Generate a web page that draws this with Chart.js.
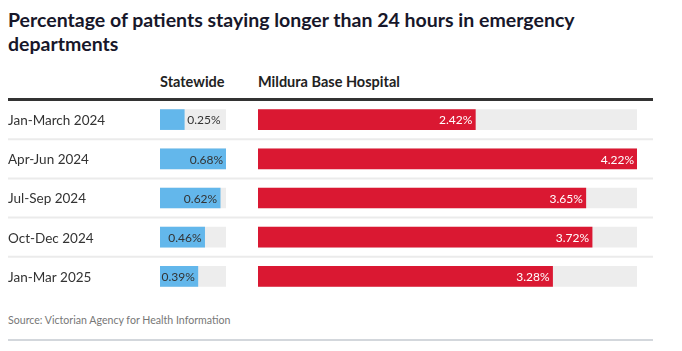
<!DOCTYPE html>
<html>
<head>
<meta charset="utf-8">
<script src="https://cdn.jsdelivr.net/npm/chart.js"></script>
<style>
  body { margin: 0; width: 682px; height: 351px; background: #fff; position: relative; overflow: hidden;
         font-family: Lato, sans-serif; }
  #title { position: absolute; left: 8px; top: 8px; width: 620px; font-size: 19.5px; line-height: 24px;
           font-weight: bold; color: #17172a; }
  .head { position: absolute; top: 73px; font-size: 14.5px; font-weight: bold; color: #222; }
  #rule { position: absolute; left: 8px; top: 98px; width: 645px; height: 3px; background: #333; }
  .wrap { position: absolute; left: 0; top: 100px; width: 682px; height: 196px; }
  #source { position: absolute; left: 8px; top: 314px; font-size: 10.6px; color: #777; }
  #foot { position: absolute; left: 8px; top: 339px; width: 645px; height: 1.5px; background: #d3d7dc; }
</style>
</head>
<body>
<div id="title">Percentage of patients staying longer than 24 hours in emergency departments</div>
<div class="head" style="left:160px">Statewide</div>
<div class="head" style="left:258px">Mildura Base Hospital</div>
<div id="rule"></div>
<div class="wrap"><canvas id="milduraChart"></canvas></div>
<div class="wrap"><canvas id="stateChart"></canvas></div>
<div id="source">Source: Victorian Agency for Health Information</div>
<div id="foot"></div>
<script>
var quarters = ['Jan-March 2024', 'Apr-Jun 2024', 'Jul-Sep 2024', 'Oct-Dec 2024', 'Jan-Mar 2025'];
var statewide = [0.25, 0.68, 0.62, 0.46, 0.39];
var mildura = [2.42, 4.22, 3.65, 3.72, 3.28];

// value labels at the end of each bar, inside if they fit
var barLabels = {
  id: 'barLabels',
  afterDatasetsDraw(chart, args, opts) {
    var ctx = chart.ctx;
    var meta = chart.getDatasetMeta(0);
    var values = chart.data.datasets[0].data;
    ctx.save();
    ctx.font = '12px Lato';
    ctx.textBaseline = 'middle';
    meta.data.forEach(function (bar, i) {
      var txt = values[i].toFixed(2) + '%';
      var w = ctx.measureText(txt).width;
      if (bar.x - bar.base >= w + 4) {
        ctx.textAlign = 'right';
        ctx.fillStyle = opts.inside;
        ctx.fillText(txt, bar.x - 3, bar.y + 1);
      } else {
        ctx.textAlign = 'left';
        ctx.fillStyle = opts.outside;
        ctx.fillText(txt, bar.x + 3, bar.y + 1);
      }
    });
    ctx.restore();
  }
};

// light separators between rows + the row names on the left
var rowLines = {
  id: 'rowLines',
  beforeDatasetsDraw(chart) {
    var y = chart.scales.y;
    var ctx = chart.ctx;
    ctx.save();
    ctx.strokeStyle = '#ebebeb';
    ctx.lineWidth = 2;
    for (var i = 0; i < quarters.length - 1; i++) {
      var py = (y.getPixelForValue(i) + y.getPixelForValue(i + 1)) / 2;
      ctx.beginPath();
      ctx.moveTo(8, py);
      ctx.lineTo(653, py);
      ctx.stroke();
    }
    ctx.font = '13.5px Lato';
    ctx.fillStyle = '#333';
    ctx.textAlign = 'left';
    ctx.textBaseline = 'middle';
    quarters.forEach(function (q, i) {
      ctx.fillText(q, 8, y.getPixelForValue(i) + 1);
    });
    ctx.restore();
  }
};

function makeChart(id, values, color, pad, labelColor, extra) {
  var max = Math.max.apply(null, values);
  return new Chart(document.getElementById(id), {
    type: 'bar',
    data: {
      labels: quarters,
      datasets: [
        { data: values, backgroundColor: color, barThickness: 20, grouped: false },
        { data: quarters.map(function () { return max; }), backgroundColor: '#ededed', barThickness: 20, grouped: false }
      ]
    },
    plugins: [barLabels].concat(extra),
    options: {
      indexAxis: 'y',
      animation: false,
      responsive: true,
      maintainAspectRatio: false,
      layout: { padding: pad },
      plugins: {
        legend: { display: false },
        tooltip: { enabled: false },
        barLabels: { inside: labelColor, outside: '#333' }
      },
      scales: {
        x: { display: false, min: 0, max: max },
        y: { display: false }
      }
    }
  });
}

makeChart('milduraChart', mildura, '#da1832', { left: 258, right: 45, top: 0, bottom: 0 }, '#fff', [rowLines]);
makeChart('stateChart', statewide, '#63b7eb', { left: 160, right: 456, top: 0, bottom: 0 }, '#333', []);
</script>
</body>
</html>
